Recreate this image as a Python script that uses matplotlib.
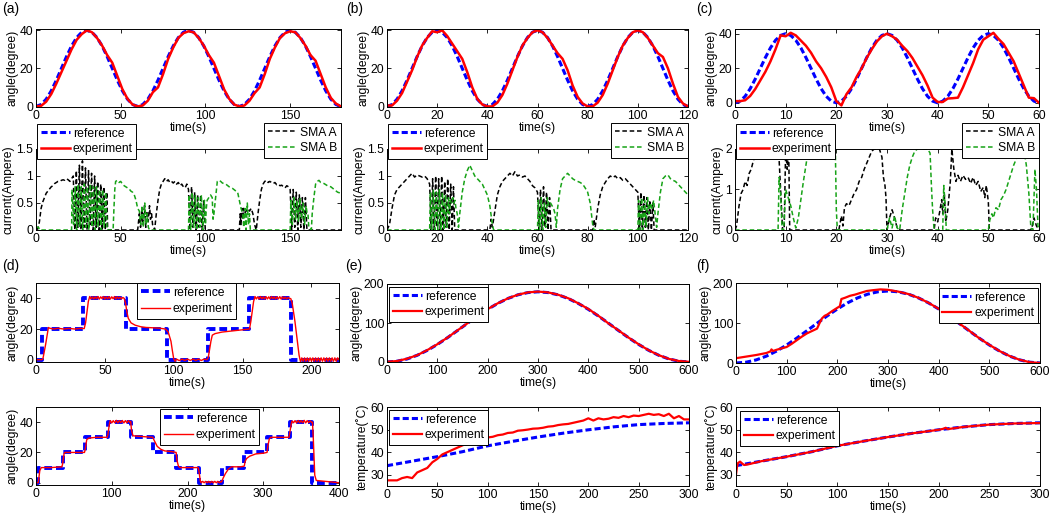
import numpy as np
import matplotlib
matplotlib.use('Agg')
import matplotlib.pyplot as plt

# ---------------- data ----------------
# (a)-(c) angle tracking, reference trajectory (three cycles, 61 samples)
sine_ref = [0, 1.0, 3.8, 8.2, 13.8, 20, 26.2, 31.8, 36.2, 39.0,
            40, 39.0, 36.2, 31.8, 26.2, 20, 13.8, 8.2, 3.8, 1.0,
            0, 1.0, 3.8, 8.2, 13.8, 20, 26.2, 31.8, 36.2, 39.0,
            40, 39.0, 36.2, 31.8, 26.2, 20, 13.8, 8.2, 3.8, 1.0,
            0, 1.0, 3.8, 8.2, 13.8, 20, 26.2, 31.8, 36.2, 39.0,
            40, 39.0, 36.2, 31.8, 26.2, 20, 13.8, 8.2, 3.8, 1.0, 0]
a_time = np.linspace(0, 180, 61)
b_time = np.linspace(0, 120, 61)
c_time = np.linspace(0, 60, 61)

a_exp = [0, 0.3, 2.5, 6.5, 12, 18, 24, 30, 35, 38,
         40, 39, 36, 32, 27, 23, 16, 9, 4, 1,
         0, 0.5, 3, 7.5, 10, 17, 25, 31, 36, 38.5,
         39.5, 39, 36, 32, 27, 23, 16, 9, 4, 1,
         0, 0.5, 3, 7, 10, 17, 25, 31, 36, 38.5,
         39.5, 39, 36, 32, 27, 24, 17, 10, 4.5, 1.5, 0]
b_exp = [0.5, 0.5, 3, 7, 13, 19, 26, 32, 36, 39.5,
         39, 40, 37, 33, 29, 25, 18, 10, 4, 1,
         0, 0, 2, 6, 12, 19, 26, 32, 36, 39,
         40, 39, 36, 32, 28, 25, 19, 11, 5, 1.5,
         0, 0, 2, 6, 12, 19, 26, 32, 36, 39,
         40, 39, 36, 32, 28, 26, 20, 12, 5, 1.5, 0]
c_exp = [1, 1, 1.5, 4, 8, 13, 18, 24, 31, 39,
         38.5, 40.5, 39, 36, 33, 29, 24, 20, 15, 9,
         1, -1.5, 5, 9, 15, 20, 26, 31, 35.5, 38.5,
         40, 38.5, 36.5, 33, 30, 26, 21, 16, 10, 3,
         0.5, 0.5, 2.5, 2.7, 3, 9, 16, 23, 31, 36.5,
         38.5, 40.5, 37, 34, 29, 24, 17, 10, 3, 2.7, 0]

# (a)-(c) currents of SMA A / SMA B, (time, ampere)
a_smaA = [(0, 0), (1, 0.02), (2, 0.15), (3, 0.4), (4, 0.52), (5, 0.6), (6, 0.68), (7, 0.72), (8, 0.76), (9, 0.8),
          (10, 0.82), (11, 0.86), (12, 0.88), (13, 0.9), (14, 0.9), (15, 0.92), (16, 0.93), (17, 0.92), (18, 0.95), (19, 0.93),
          (20, 0.9), (21, 0.95), (22, 1.0), (22.9, 0), (23.8, 1.1), (24.7, 0.05), (25.6, 1.2), (26.5, 0), (27.4, 1.28), (28.3, 0.05),
          (29.2, 1.15), (30.1, 0), (31, 1.1), (31.9, 0.1), (32.8, 1.05), (33.7, 0), (34.6, 1.0), (35.5, 0.05), (36.4, 0.9), (37.3, 0),
          (38.2, 0.85), (39.1, 0), (40, 0.8), (40.9, 0), (41.8, 0.7), (42.3, 0), (60, 0), (61, 0.3), (61.7, 0.05), (62.5, 0.4),
          (63.2, 0.1), (64, 0.45), (64.8, 0.05), (65.5, 0.35), (66.2, 0.15), (67, 0.45), (67.6, 0.2), (68.2, 0.3), (68.8, 0.1), (69.5, 0.05),
          (70, 0), (71, 0.3), (72, 0.55), (73, 0.75), (74, 0.85), (75, 0.9), (76, 0.95), (77, 0.9), (78, 0.93), (79, 0.88),
          (80, 0.9), (81, 0.87), (82, 0.9), (83, 0.85), (84, 0.88), (85, 0.82), (86, 0.85), (87, 0.8), (88, 0.78), (89, 0.85),
          (90, 0.75), (90.9, 0), (91.8, 0.8), (92.7, 0.05), (93.6, 0.7), (94.5, 0), (95.4, 0.65), (96.3, 0.05), (97.2, 0.65), (98.1, 0),
          (99, 0.55), (99.9, 0), (120, 0), (120.5, 0.3), (121, 0.1), (121.5, 0.4), (122, 0.2), (122.5, 0.4), (123, 0.3), (124, 0.35),
          (125, 0.4), (126, 0.35), (127, 0.4), (128, 0.3), (129, 0.1), (130, 0), (131, 0.3), (132, 0.55), (133, 0.75), (134, 0.85),
          (135, 0.9), (136, 0.92), (137, 0.88), (138, 0.9), (139, 0.88), (140, 0.86), (141, 0.88), (142, 0.84), (143, 0.85), (144, 0.82),
          (145, 0.83), (146, 0.8), (147, 0.78), (148, 0.82), (149, 0.8), (150, 0.75), (150.9, 0), (151.8, 0.75), (152.7, 0.05), (153.6, 0.7),
          (154.5, 0), (155.4, 0.65), (156.3, 0.05), (157.2, 0.6), (158.1, 0), (159, 0.6), (159.9, 0), (180, 0)]
a_smaB = [(0, 0.05), (1.5, 0.05), (2, 0), (21, 0), (21.3, 0.75), (22.2, 0.1), (23.1, 0.8), (24, 0), (24.9, 0.85), (25.8, 0.05),
          (26.7, 0.8), (27.6, 0), (28.5, 0.85), (29.4, 0.05), (30.3, 0.8), (31.2, 0), (32.1, 0.85), (33, 0.05), (33.9, 0.8), (34.8, 0),
          (35.7, 0.8), (36.6, 0.05), (37.5, 0.75), (38.4, 0), (39.3, 0.75), (40.2, 0.05), (41.1, 0.7), (42, 0), (45.5, 0), (46, 0.4),
          (46.5, 0.75), (47, 0.9), (48, 0.92), (49, 0.88), (50, 0.9), (51, 0.85), (52, 0.82), (53, 0.8), (54, 0.78), (55, 0.76),
          (56, 0.72), (57, 0.7), (58, 0.65), (59, 0.55), (60, 0.4), (61, 0.35), (61.8, 0.1), (62.6, 0.45), (63.4, 0.05), (64.2, 0.5),
          (65, 0.1), (65.6, 0.3), (66.3, 0.05), (67, 0), (90, 0), (90.4, 0.65), (91.3, 0), (92.2, 0.7), (93.1, 0.05), (94, 0.65),
          (94.9, 0), (95.8, 0.6), (96.7, 0.05), (97.6, 0.65), (98.5, 0), (99.4, 0.55), (100, 0.1), (100.5, 0.4), (101, 0.55), (102, 0.6),
          (103, 0.65), (104, 0.6), (104.5, 0.2), (105, 0.3), (106, 0.6), (107, 0.9), (108, 0.92), (109, 0.9), (110, 0.87), (112, 0.85),
          (114, 0.8), (116, 0.77), (118, 0.72), (119, 0.7), (120, 0.55), (121, 0.4), (122, 0.3), (122.6, 0.05), (123.3, 0.4), (124, 0),
          (124.7, 0.5), (125.4, 0.1), (126, 0.3), (126.5, 0), (150, 0), (150.4, 0.55), (151.3, 0.1), (152.2, 0.6), (153.1, 0.2), (154, 0.55),
          (154.9, 0.15), (155.8, 0.6), (156.7, 0.2), (157.6, 0.5), (158.5, 0.1), (159.4, 0.45), (160, 0.3), (160.5, 0.3), (161, 0.05), (162.5, 0),
          (163, 0.3), (164, 0.6), (165, 0.85), (166, 0.9), (167, 0.92), (168, 0.88), (170, 0.86), (172, 0.82), (174, 0.8), (176, 0.75),
          (178, 0.7), (180, 0.68)]

b_smaA = [(0, 0), (1, 0.1), (2, 0.4), (3, 0.65), (4, 0.75), (5, 0.8), (6, 0.85), (7, 0.9), (8, 0.95), (9, 1.0),
          (10, 1.05), (11, 0.98), (12, 1.02), (13, 1.0), (14, 0.98), (15, 1.0), (16, 0.95), (17, 0.85), (17.6, 0), (18.2, 0.95),
          (18.8, 0), (19.4, 1.0), (20, 0.05), (20.6, 0.95), (21.2, 0), (21.8, 1.0), (22.4, 0), (23, 0.9), (23.6, 0.05), (24.2, 0.95),
          (24.8, 0), (25.4, 0.85), (26, 0), (26.5, 0.8), (27, 0), (41, 0), (41.5, 0.2), (42, 0.05), (43, 0.35), (44, 0.65),
          (45, 0.8), (46, 0.9), (47, 0.95), (48, 1.0), (49, 1.05), (50, 1.0), (51, 1.08), (52, 1.0), (53, 1.02), (54, 0.98),
          (55, 1.0), (56, 0.95), (57, 0.9), (58, 0.82), (59, 0.78), (60, 0.7), (60.6, 0), (61.2, 0.75), (61.8, 0), (62.4, 0.8),
          (63, 0.05), (63.6, 0.7), (64.2, 0), (64.8, 0.6), (65.4, 0), (82, 0), (82.5, 0.2), (83, 0.05), (84, 0.4), (85, 0.65),
          (86, 0.8), (87, 0.88), (88, 0.95), (89, 1.0), (90, 0.97), (91, 1.0), (92, 0.95), (93, 0.97), (94, 0.92), (95, 0.95),
          (96, 0.9), (97, 0.85), (98, 0.8), (99, 0.75), (100, 0.7), (100.6, 0), (101.2, 0.7), (101.8, 0), (102.4, 0.65), (103, 0.05),
          (103.6, 0.6), (104.2, 0), (104.8, 0.55), (105.4, 0), (106, 0.5), (106.5, 0), (120, 0)]
b_smaB = [(0, 0), (17, 0), (17.3, 0.7), (17.9, 0), (18.5, 0.75), (19.1, 0), (19.7, 0.7), (20.3, 0), (20.9, 0.75), (21.5, 0),
          (22.1, 0.7), (22.7, 0), (23.3, 0.65), (23.9, 0.05), (24.5, 0.6), (24.9, 0.3), (25.2, 0.55), (25.7, 0.5), (26.2, 0.6), (26.7, 0.5),
          (27.1, 0.55), (27.5, 0.4), (28, 0.3), (28.5, 0.05), (29, 0.3), (30, 0.7), (31, 0.95), (32, 1.1), (33, 1.2), (34, 1.1),
          (35, 1.0), (36, 0.95), (37, 0.9), (38, 0.85), (39, 0.75), (40, 0.65), (41, 0.45), (42, 0.1), (42.5, 0), (60, 0),
          (60.3, 0.55), (60.9, 0), (61.5, 0.6), (62.1, 0), (62.7, 0.5), (63.3, 0.05), (63.9, 0.6), (64.5, 0.45), (65.2, 0.5), (65.8, 0.45),
          (66.4, 0.4), (67, 0.3), (67.5, 0.05), (68, 0.4), (69, 0.75), (70, 0.95), (71, 1.0), (72, 1.05), (73, 1.0), (74, 0.95),
          (75, 0.92), (76, 0.9), (77, 0.88), (78, 0.85), (79, 0.78), (80, 0.7), (81, 0.5), (82, 0.1), (82.5, 0), (100, 0),
          (100.3, 0.55), (100.9, 0), (101.5, 0.6), (102.1, 0), (102.7, 0.55), (103.3, 0.05), (103.9, 0.6), (104.5, 0.3), (105.1, 0.5), (105.7, 0.4),
          (106.3, 0.55), (106.9, 0.3), (107.5, 0.05), (108, 0.3), (109, 0.7), (110, 0.95), (111, 1.0), (112, 1.02), (113, 0.95), (114, 0.92),
          (115, 0.9), (116, 0.85), (117, 0.8), (118, 0.75), (119, 0.7), (120, 0.65)]

c_smaA = [(0, 0), (0.3, 0.1), (0.8, 0.6), (1.2, 0.9), (1.6, 1.0), (2, 1.2), (2.4, 1.1), (2.8, 1.4), (3.2, 1.5), (3.6, 1.7),
          (4, 1.85), (4.5, 2.1), (5, 2.6), (8, 2.6), (8.6, 2.0), (9.0, 1.0), (9.4, 0), (9.7, 0), (10.0, 2.0), (10.3, 1.5),
          (10.6, 2.0), (10.8, 0), (20.5, 0), (21, 0.35), (21.3, 0.1), (21.6, 0.55), (22, 0.65), (22.5, 0.6), (23, 0.75), (23.5, 0.9),
          (24, 1.0), (24.5, 1.2), (25, 1.3), (25.5, 1.5), (26, 1.65), (26.5, 1.8), (27, 1.95), (27.5, 2.0), (28.5, 2.0), (29, 1.8),
          (29.3, 1.3), (29.6, 1.1), (29.8, 0.8), (30, 0), (30.5, 0.3), (31, 0.5), (31.5, 0.3), (32, 0.05), (32.5, 0), (39.3, 0),
          (39.6, 0.3), (40, 0.2), (40.4, 0.45), (40.8, 0.75), (41, 0.4), (41.3, 0.9), (41.6, 0.2), (42, 0.5), (42.5, 1.2), (42.8, 2.0),
          (43.2, 1.5), (43.6, 1.2), (44, 1.35), (44.5, 1.2), (45, 1.35), (45.5, 1.25), (46, 1.3), (46.5, 1.15), (47, 1.3), (47.5, 1.1),
          (48, 1.2), (48.5, 0.95), (49, 1.05), (49.3, 0.8), (49.6, 1.1), (50, 0.7), (50.2, 0), (58.5, 0), (59, 0.3), (59.5, 0.1),
          (60, 0)]
c_smaB = [(0, 0), (8.5, 0), (8.7, 1.3), (9.0, 0.9), (9.3, 0), (9.6, 0), (10, 1.0), (10.5, 0.8), (11, 0.6), (11.5, 0.3),
          (12, 0.05), (12.5, 0.3), (13, 0.75), (13.5, 1.2), (14, 1.6), (14.5, 2.0), (15, 2.6), (19.5, 2.6), (19.8, 2.0), (20, 0.5),
          (20.2, 0), (30, 0), (30.5, 0.3), (31, 0.05), (31.5, 0.35), (32, 0.05), (32.5, 0), (33, 0.5), (33.5, 0.9), (34, 1.3),
          (34.5, 1.6), (35, 1.8), (35.5, 1.95), (36, 2.0), (38, 2.0), (38.5, 1.9), (38.8, 1.0), (39, 0.5), (39.3, 0), (41, 0),
          (41.2, 1.1), (41.5, 0.6), (41.7, 0), (50, 0), (50.3, 0.25), (50.7, 0.4), (51, 0.3), (51.5, 0.55), (52, 0.5), (52.5, 0.75),
          (53, 0.85), (53.5, 1.0), (54, 1.2), (54.5, 1.4), (55, 1.6), (55.5, 1.75), (56, 1.95), (56.5, 1.8), (57, 2.0), (57.5, 1.6),
          (58, 0.9), (58.4, 0.05), (58.8, 0), (59.2, 1.5), (59.5, 1.0), (59.8, 0.1), (60, 0)]

# (d) step responses
d1_ref_t = [0, 4, 34, 65, 95, 125, 155, 185, 220]
d1_ref = [0, 20, 40, 20, 0, 20, 40, 0, 0]
d1_exp = [(0, 0), (4, 0), (5, 0.5), (7, 10), (9, 21), (10, 20.5), (13, 20), (16, 20.5), (20, 20), (24, 20.4),
          (28, 20), (32, 20.4), (35, 20.3), (36, 24), (38, 38), (39, 41.2), (40, 39.6), (41, 41), (42, 39.5), (43, 41),
          (44, 39.7), (45, 41.2), (46, 39.5), (47, 41), (48, 39.8), (49, 41.2), (50, 39.5), (51, 41), (52, 39.6), (53, 41.1),
          (54, 39.5), (55, 41), (56, 39.7), (57, 41.2), (58, 39.5), (59, 41), (60, 39.8), (61, 40.8), (62, 39.6), (63, 40.6),
          (64, 40), (65, 37), (66, 31), (67, 27), (69, 24), (72, 22.5), (76, 21.5), (80, 21), (85, 20.8), (90, 20.5),
          (94, 20), (96, 18), (98, 12), (99, 6), (100, 0.5), (101, -1), (102, 0.4), (104, -0.6), (106, 0.4), (108, -0.5),
          (110, 0.4), (112, -0.5), (114, 0.4), (116, -0.5), (118, 0.4), (120, -0.5), (122, 0.4), (124, 0), (125, 1), (127, 12),
          (128, 16), (130, 17), (135, 18), (140, 18.5), (145, 19), (150, 19.5), (155, 20), (156, 25), (158, 38), (159, 41.2),
          (160, 39.6), (161, 41), (162, 39.5), (163, 41.2), (164, 39.7), (165, 41), (166, 39.5), (167, 41.1), (168, 39.6), (169, 41),
          (170, 39.5), (171, 41.2), (172, 39.7), (173, 41), (174, 39.5), (175, 41), (176, 39.6), (177, 41.1), (178, 39.5), (179, 41),
          (180, 39.7), (181, 40.8), (182, 39.6), (183, 40.6), (184, 40), (185, 39.8), (186, 37), (188, 25), (190, 10), (191, 3),
          (192, -1.2), (193, 1.2), (194, -1), (195, 1.2), (196, -1), (197, 1.2), (198, -1), (199, 1.2), (200, -1), (201, 1.2),
          (202, -1), (203, 1.2), (204, -1), (205, 1.2), (206, -1), (207, 1.2), (208, -1), (209, 1.2), (210, -1), (211, 1.2),
          (212, -1), (213, 1.2), (214, -1), (215, 1.2), (216, -1), (217, 1.2), (218, -1), (219, 1.2), (220, 0)]

d2_ref_t = [0, 3, 35, 65, 95, 125, 155, 185, 215, 245, 275, 305, 335, 365, 400]
d2_ref = [0, 10, 20, 30, 40, 30, 20, 10, 0, 10, 20, 30, 40, 0, 0]
d2_exp = [(0, 0), (3, 0), (5, 8), (7, 10), (20, 10), (34, 10.5), (35, 12), (37, 19), (38, 20), (50, 20),
          (64, 20), (65, 22), (67, 28.5), (70, 29.5), (80, 30), (94, 30), (95, 32), (97, 39), (98, 41), (100, 39.5),
          (102, 41), (104, 39.6), (106, 41.2), (108, 39.5), (110, 41), (112, 39.7), (114, 41.1), (116, 39.5), (118, 41), (120, 39.6),
          (122, 41), (124, 39.8), (125, 40.5), (126, 35), (128, 31), (140, 30.5), (154, 30), (155, 29), (157, 27), (160, 24),
          (165, 22), (170, 21), (180, 20.5), (185, 20), (186, 15), (188, 11), (190, 10), (200, 10), (214, 10), (215, 8),
          (217, 1), (218, 0), (220, 0.9), (222, 0), (224, 0.9), (226, 0), (228, 0.9), (230, 0), (232, 0.9), (234, 0),
          (236, 0.9), (238, 0), (240, 0.9), (242, 0), (244, 0.8), (245, 0.5), (247, 3), (250, 6), (254, 9), (258, 10.5),
          (270, 10.5), (275, 11), (276, 14), (278, 16), (282, 17.5), (290, 19), (300, 19.5), (305, 20), (306, 24), (308, 29),
          (310, 30), (334, 30), (335, 33), (337, 39), (338, 40.8), (340, 39.6), (342, 41), (344, 39.5), (346, 41.1), (348, 39.7),
          (350, 41), (352, 39.6), (354, 41.2), (356, 39.5), (358, 41), (360, 39.7), (362, 40.8), (364, 39.8), (365, 40), (366, 30),
          (368, 5), (370, 1.5), (380, 1), (390, 0.5), (400, 0)]

# (e), (f) large-angle tracking and temperature
ef_time = np.linspace(0, 600, 31)
big_ref = [0, 2.0, 7.8, 17.2, 29.8, 45, 62.2, 80.6, 99.4, 117.8, 135, 150.2, 162.8, 172.2, 178.0, 180,
           178.0, 172.2, 162.8, 150.2, 135, 117.8, 99.4, 80.6, 62.2, 45, 29.8, 17.2, 7.8, 2.0, 0]
e_exp = [0.5, 2.5, 8.5, 17.5, 30.5, 45.5, 62.5, 81, 99.5, 118.5, 135.5, 150.5, 163, 172.5, 178.5, 180.5,
         178.5, 172.5, 163.5, 150.5, 136, 118.5, 99, 81, 62.5, 45.5, 30, 17.5, 8, 2.5, 0.5]
f_exp = [(0, 12), (20, 16), (40, 20), (60, 25), (68, 29), (70, 34), (73, 30), (80, 33), (100, 40), (110, 48),
         (120, 57), (130, 66), (140, 74), (150, 80), (160, 86), (165, 100), (170, 112), (175, 118), (180, 121), (190, 130),
         (200, 138), (205, 142), (208, 160), (215, 163), (225, 168), (235, 171), (245, 175), (258, 180), (270, 182), (285, 184),
         (300, 183), (320, 178.5), (340, 172.5), (360, 163), (380, 150.5), (400, 135.5), (420, 118), (440, 99.5), (460, 81), (480, 62),
         (500, 45.5), (520, 30), (540, 17.5), (560, 8), (580, 2), (600, 0)]

temp_time = np.linspace(0, 300, 13)
temp_ref = [34, 36, 38, 40.2, 42.8, 44.8, 46.7, 48.4, 49.9, 51.2, 52.2, 52.7, 53]
e_temp = [(0, 27.5), (10, 27.5), (15, 28.5), (20, 29), (25, 28.5), (30, 31), (35, 32), (40, 33), (45, 35.5), (50, 37),
          (55, 39), (60, 40), (65, 41), (70, 42), (75, 43), (80, 44), (85, 44.5), (90, 45.3), (95, 46), (100, 46.5),
          (105, 46.8), (110, 47.5), (115, 47.8), (120, 48.5), (125, 48.7), (130, 49.5), (135, 49.7), (140, 50), (145, 50.4), (150, 50.5),
          (155, 50.8), (160, 51.3), (165, 51.5), (170, 52), (175, 52.3), (180, 52.5), (185, 53), (190, 53.5), (195, 54), (200, 55),
          (205, 54), (210, 55), (215, 54.5), (220, 54.8), (225, 55.5), (230, 55.2), (235, 56), (240, 55.5), (245, 56.2), (250, 56),
          (255, 56.5), (260, 57), (265, 56.5), (270, 56.8), (275, 56), (280, 57), (285, 55), (290, 56), (295, 54.5), (300, 54.5)]
f_temp = [(0, 30), (1, 33.5), (2, 35.2), (4, 35.8), (6, 35), (8, 34.3), (12, 34.6), (25, 36), (50, 38), (75, 40.2),
          (100, 42.8), (125, 44.8), (150, 46.7), (175, 48.4), (200, 49.9), (205, 50.4), (207, 50.8), (209, 50.2), (225, 51.2), (250, 52.2),
          (275, 52.7), (300, 52.9)]

# ---------------- figure ----------------
plt.rcParams['font.family'] = ['Liberation Sans', 'DejaVu Sans']
plt.rcParams['font.size'] = 8.7
plt.rcParams['xtick.direction'] = 'in'
plt.rcParams['ytick.direction'] = 'in'
plt.rcParams['xtick.top'] = True
plt.rcParams['ytick.right'] = True
plt.rcParams['xtick.major.size'] = 3
plt.rcParams['ytick.major.size'] = 3
plt.rcParams['xtick.major.width'] = 0.6
plt.rcParams['ytick.major.width'] = 0.6
plt.rcParams['axes.linewidth'] = 0.7

W, H = 1050, 517
fig = plt.figure(figsize=(W / 100, H / 100), dpi=100)

BLUE, RED, GREEN = '#0000ff', '#ff0000', '#17a317'


def add_ax(x0, x1, y0, y1):
    # pixel box -> figure fraction
    return fig.add_axes([x0 / W, 1 - y1 / H, (x1 - x0) / W, (y1 - y0) / H])


def finish(ax, xlim, xticks, ylim, yticks, ylabel, yticklabels=None):
    ax.set_xlim(xlim)
    ax.set_ylim(ylim)
    ax.set_xticks(xticks)
    ax.set_yticks(yticks)
    if yticklabels is not None:
        ax.set_yticklabels(yticklabels)
    ax.set_xlabel('time(s)', labelpad=0)
    ax.set_ylabel(ylabel, labelpad=1)
    ax.tick_params(pad=2)


def legend_at(ax, handles, labels, x, y, loc, hl=2.4, ls=0.3):
    leg = ax.legend(handles, labels, loc=loc, bbox_to_anchor=(x / W, 1 - y / H),
                    bbox_transform=fig.transFigure, borderaxespad=0, fancybox=False,
                    framealpha=1, edgecolor='black', handlelength=hl,
                    handletextpad=0.25, labelspacing=ls, borderpad=0.3)
    leg.get_frame().set_linewidth(0.7)
    leg.set_zorder(10)


def xy(pairs):
    arr = np.array(pairs, dtype=float)
    return arr[:, 0], arr[:, 1]


# top row: (a), (b), (c)
cols = [(36, 341), (387, 688), (735, 1039)]
angle_sets = [(a_time, a_exp, 180, [0, 50, 100, 150], (-0.3, 40.7)),
              (b_time, b_exp, 120, [0, 20, 40, 60, 80, 100, 120], (-0.3, 40.7)),
              (c_time, c_exp, 60, [0, 10, 20, 30, 40, 50, 60], (-2.4, 42.7))]
current_sets = [(a_smaA, a_smaB, (0, 1.5), [0, 0.5, 1, 1.5], ['0', '0.5', '1', '1.5']),
                (b_smaA, b_smaB, (0, 1.5), [0, 0.5, 1, 1.5], ['0', '0.5', '1', '1.5']),
                (c_smaA, c_smaB, (0, 2), [0, 1, 2], ['0', '1', '2'])]

for (x0, x1), (t, exp, tmax, xt, ylim), (sa, sb, cyl, cyt, cytl) in zip(cols, angle_sets, current_sets):
    ax = add_ax(x0, x1, 29, 107)
    h_ref, = ax.plot(t, sine_ref, color=BLUE, lw=2.2, ls='--', dashes=(2, 1))
    h_exp, = ax.plot(t, exp, color=RED, lw=1.8)
    finish(ax, (0, tmax), xt, ylim, [0, 20, 40], 'angle(degree)')

    ax2 = add_ax(x0, x1, 149, 230)
    ta, va = xy(sa)
    tb, vb = xy(sb)
    h_a, = ax2.plot(ta, va, color='black', lw=1.1, ls='--', dashes=(3, 1.8))
    h_b, = ax2.plot(tb, vb, color=GREEN, lw=1.1, ls='--', dashes=(3, 1.8))
    finish(ax2, (0, tmax), xt, cyl, cyt, 'current(Ampere)', cytl)
    legend_at(ax2, [h_ref, h_exp], ['reference', 'experiment'], x0 + 1, 124, 'upper left')
    leg1 = ax2.get_legend()
    legend_at(ax2, [h_a, h_b], ['SMA A', 'SMA B'], x1, 123, 'upper right')
    ax2.add_artist(leg1)

# (d)
ax = add_ax(36, 339, 283, 362)
h_ref, = ax.plot(d1_ref_t, d1_ref, color=BLUE, lw=2.8, ls='--', dashes=(2, 1), drawstyle='steps-post')
t, v = xy(d1_exp)
h_exp, = ax.plot(t, v, color=RED, lw=1.0)
finish(ax, (0, 220), [0, 50, 100, 150, 200], (-1.5, 50), [0, 20, 40], 'angle(degree)')
legend_at(ax, [h_ref, h_exp], ['reference', 'experiment'], 137, 283, 'upper left', ls=0.4)

ax = add_ax(36, 339, 407, 485)
h_ref, = ax.plot(d2_ref_t, d2_ref, color=BLUE, lw=2.8, ls='--', dashes=(2, 1), drawstyle='steps-post')
t, v = xy(d2_exp)
h_exp, = ax.plot(t, v, color=RED, lw=1.0)
finish(ax, (0, 400), [0, 100, 200, 300, 400], (-1.5, 50), [0, 20, 40], 'angle(degree)')
legend_at(ax, [h_ref, h_exp], ['reference', 'experiment'], 160, 409, 'upper left', ls=0.4)

# (e)
ax = add_ax(387, 689, 284, 362)
h_ref, = ax.plot(ef_time, big_ref, color=BLUE, lw=2.2, ls='--', dashes=(2, 1))
h_exp, = ax.plot(ef_time, e_exp, color=RED, lw=1.6)
finish(ax, (0, 600), [0, 100, 200, 300, 400, 500, 600], (0, 200), [0, 100, 200], 'angle(degree)')
legend_at(ax, [h_ref, h_exp], ['reference', 'experiment'], 389, 287, 'upper left')

ax = add_ax(387, 689, 407, 486)
h_ref, = ax.plot(temp_time, temp_ref, color=BLUE, lw=2.2, ls='--', dashes=(2, 1))
t, v = xy(e_temp)
h_exp, = ax.plot(t, v, color=RED, lw=1.6)
finish(ax, (0, 300), [0, 50, 100, 150, 200, 250, 300], (25, 60), [30, 40, 50, 60], 'temperature(\u02daC)')
legend_at(ax, [h_ref, h_exp], ['reference', 'experiment'], 389, 410, 'upper left')

# (f)
ax = add_ax(736, 1040, 283, 363)
h_ref, = ax.plot(ef_time, big_ref, color=BLUE, lw=2.2, ls='--', dashes=(2, 1))
t, v = xy(f_exp)
h_exp, = ax.plot(t, v, color=RED, lw=1.6)
finish(ax, (0, 600), [0, 100, 200, 300, 400, 500, 600], (0, 200), [0, 100, 200], 'angle(degree)')
legend_at(ax, [h_ref, h_exp], ['reference', 'experiment'], 1038, 288, 'upper right')

ax = add_ax(736, 1040, 407, 486)
h_ref, = ax.plot(temp_time, temp_ref, color=BLUE, lw=2.2, ls='--', dashes=(2, 1))
t, v = xy(f_temp)
h_exp, = ax.plot(t, v, color=RED, lw=1.6)
finish(ax, (0, 300), [0, 50, 100, 150, 200, 250, 300], (25, 60), [30, 40, 50, 60], 'temperature(\u02daC)')
legend_at(ax, [h_ref, h_exp], ['reference', 'experiment'], 740, 411, 'upper left')

# panel letters
for lab, x, y in [('(a)', 2, 2), ('(b)', 346, 2), ('(c)', 696, 2),
                  ('(d)', 2, 259), ('(e)', 345, 259), ('(f)', 696, 259)]:
    fig.text(x / W, 1 - y / H, lab, va='top', ha='left', fontsize=10)

fig.savefig('out.png', dpi=100)
